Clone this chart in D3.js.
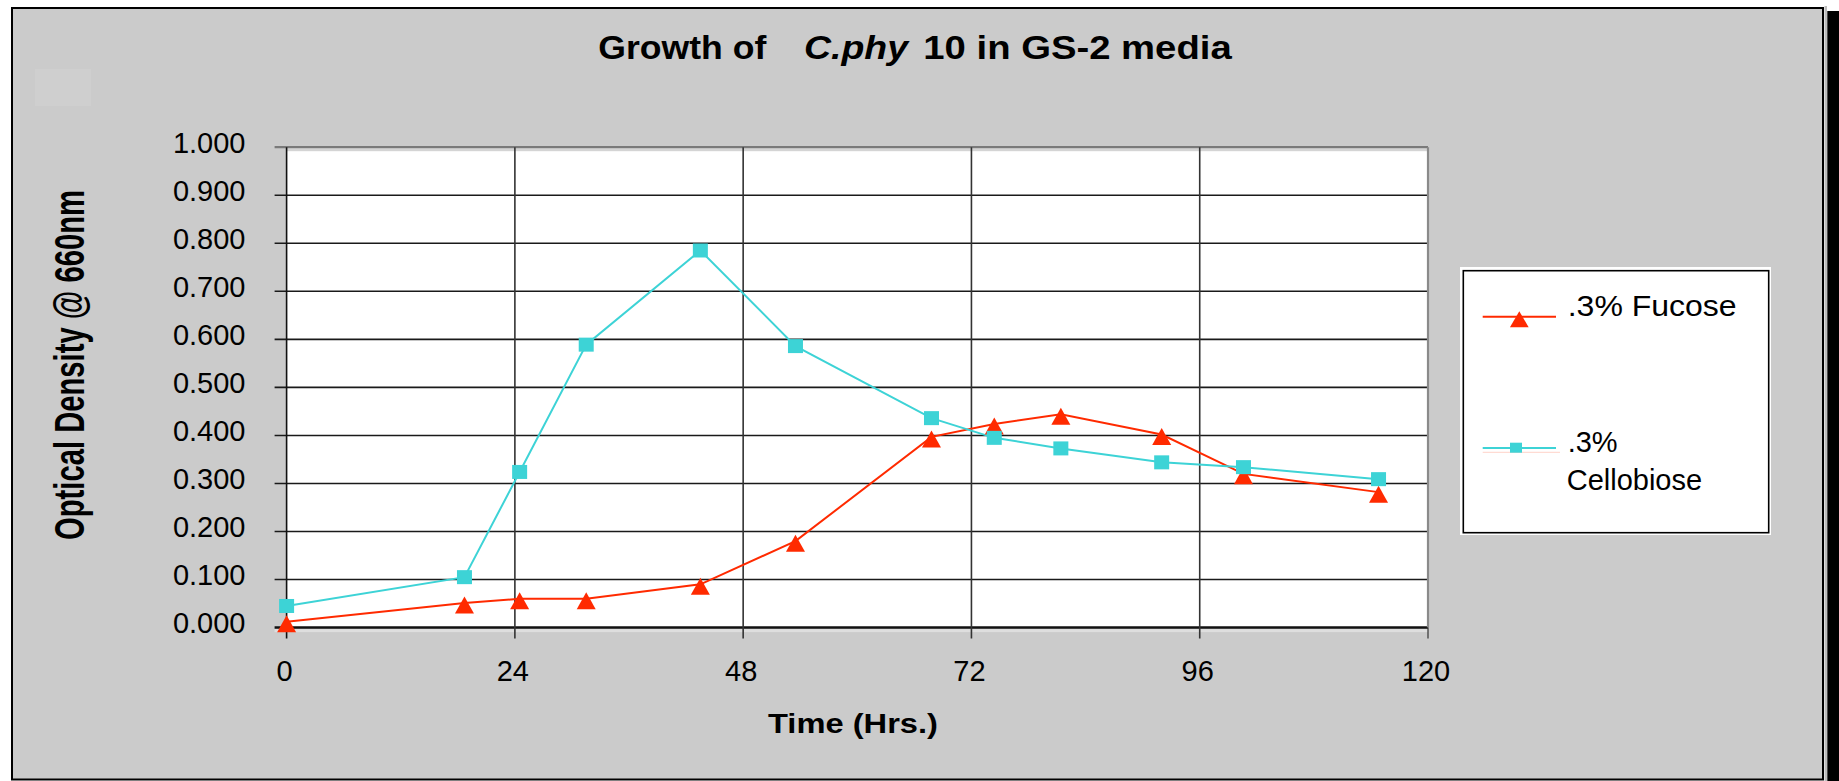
<!DOCTYPE html>
<html>
<head>
<meta charset="utf-8">
<script src="https://cdn.jsdelivr.net/npm/d3@7"></script>
<style>
  html, body { margin: 0; padding: 0; background: #ffffff; }
  svg { display: block; }
  text { font-family: "Liberation Sans", Arial, Helvetica, sans-serif; fill: #000; }
</style>
</head>
<body>
<svg id="chart" width="1839" height="781"></svg>
<script>
// ---------------- data ----------------
const timeHrs    = [0, 18.7, 24.5, 31.5, 43.5, 53.5, 67.8, 74.4, 81.4, 92, 100.6, 114.8];
const fucose     = [0.012, 0.051, 0.060, 0.060, 0.090, 0.180, 0.397, 0.424, 0.444, 0.402, 0.320, 0.282];
const cellobiose = [0.045, 0.105, 0.324, 0.589, 0.785, 0.586, 0.436, 0.395, 0.373, 0.344, 0.334, 0.309];
const seriesNames = [".3% Fucose", ".3% Cellobiose"];
const xTicks = [0, 24, 48, 72, 96, 120];
const yTicks = [0, 0.1, 0.2, 0.3, 0.4, 0.5, 0.6, 0.7, 0.8, 0.9, 1.0];
const titleParts = ["Growth of", "C.phy", "10 in GS-2 media"];
const xTitle = "Time (Hrs.)";
const yTitle = "Optical Density @ 660nm";

// ---------------- layout ----------------
const svg = d3.select("#chart");
const plot = { left: 286.6, right: 1428, top: 147.2, bottom: 627.6 };
const x = d3.scaleLinear().domain([0, 120]).range([plot.left, plot.right]);
const y = d3.scaleLinear().domain([0, 1]).range([plot.bottom, plot.top]);

const RED = "#ff2a00";
const CYAN = "#3dd3d6";

// outer frame
svg.append("rect").attr("x", 12).attr("y", 8).attr("width", 1811).attr("height", 771.5)
  .attr("fill", "#cbcbcb").attr("stroke", "#000").attr("stroke-width", 2);
svg.append("rect").attr("x", 1824.5).attr("y", 6).attr("width", 2.5).attr("height", 775).attr("fill", "#bdbdbd");
svg.append("rect").attr("x", 1827.3).attr("y", 11).attr("width", 12).attr("height", 770).attr("fill", "#000");
// faint lighter patch top-left
svg.append("rect").attr("x", 35).attr("y", 69).attr("width", 56).attr("height", 37).attr("fill", "#cfcfcf");

// plot area
svg.append("rect").attr("x", plot.left).attr("y", plot.top)
  .attr("width", plot.right - plot.left).attr("height", plot.bottom - plot.top)
  .attr("fill", "#ffffff");
svg.append("rect").attr("x", plot.left).attr("y", plot.top + 1)
  .attr("width", plot.right - plot.left).attr("height", 3).attr("fill", "#d4d4d4");
svg.append("rect").attr("x", plot.left - 12).attr("y", plot.bottom + 1.5)
  .attr("width", plot.right - plot.left + 12).attr("height", 3).attr("fill", "#dedede");

// horizontal gridlines
const gy = svg.append("g");
yTicks.forEach(v => {
  const top = v === 1, bot = v === 0;
  gy.append("line")
    .attr("x1", plot.left - 12).attr("x2", plot.right)
    .attr("y1", y(v)).attr("y2", y(v))
    .attr("stroke", top ? "#7a7a7a" : (bot ? "#111" : "#1a1a1a"))
    .attr("stroke-width", bot ? 2.5 : (top ? 2.2 : 1.6));
});
// vertical gridlines + ticks
const gx = svg.append("g");
xTicks.forEach(v => {
  const right = v === 120;
  gx.append("line")
    .attr("x1", x(v)).attr("x2", x(v))
    .attr("y1", plot.top).attr("y2", right ? plot.bottom : plot.bottom + 11)
    .attr("stroke", right ? "#8a8a8a" : (v === 0 ? "#111" : "#333"))
    .attr("stroke-width", right ? 2.2 : 1.6);
  if (right) {
    gx.append("line").attr("x1", x(v)).attr("x2", x(v))
      .attr("y1", plot.bottom).attr("y2", plot.bottom + 11)
      .attr("stroke", "#333").attr("stroke-width", 1.2);
  }
});

// tick labels
svg.append("g").selectAll("text").data(yTicks).join("text")
  .attr("x", 245.5).attr("y", d => y(d) + 5.5)
  .attr("text-anchor", "end").attr("font-size", 29)
  .text(d => d3.format(".3f")(d));
svg.append("g").selectAll("text").data(xTicks).join("text")
  .attr("x", d => x(d) - 2).attr("y", 681)
  .attr("text-anchor", "middle").attr("font-size", 29)
  .text(d => d);

// titles
const tt = svg.append("g").attr("font-weight", "bold").attr("font-size", 32.5);
tt.append("text").attr("x", 598.3).attr("y", 59.3).attr("textLength", 168).attr("lengthAdjust", "spacingAndGlyphs").text(titleParts[0]);
tt.append("text").attr("x", 804).attr("y", 59.3).attr("font-style", "italic").attr("textLength", 104).attr("lengthAdjust", "spacingAndGlyphs").text(titleParts[1]);
tt.append("text").attr("x", 923.3).attr("y", 59.3).attr("textLength", 308.4).attr("lengthAdjust", "spacingAndGlyphs").text(titleParts[2]);

svg.append("text").attr("x", 768).attr("y", 733.3)
  .attr("font-weight", "bold").attr("font-size", 28.5)
  .attr("textLength", 170).attr("lengthAdjust", "spacingAndGlyphs")
  .text(xTitle);

svg.append("text")
  .attr("transform", "translate(84,365) rotate(-90) scale(1,1.47)")
  .attr("text-anchor", "middle")
  .attr("font-weight", "bold").attr("font-size", 29)
  .attr("textLength", 350).attr("lengthAdjust", "spacingAndGlyphs")
  .text(yTitle);

// series
const line = d3.line().x(d => x(d[0])).y(d => y(d[1]));
const fucData = timeHrs.map((t, i) => [t, fucose[i]]);
const celData = timeHrs.map((t, i) => [t, cellobiose[i]]);

const triPath = (cx, cy, w, h) => `M${cx - w / 2},${cy + h / 2}L${cx},${cy - h / 2}L${cx + w / 2},${cy + h / 2}Z`;

svg.append("path").attr("d", line(fucData)).attr("fill", "none").attr("stroke", RED).attr("stroke-width", 2);
svg.append("path").attr("d", line(celData)).attr("fill", "none").attr("stroke", CYAN).attr("stroke-width", 2);

svg.append("g").selectAll("path").data(fucData).join("path")
  .attr("d", d => triPath(x(d[0]), y(d[1]) + 2, 19, 17))
  .attr("fill", RED);
svg.append("g").selectAll("rect").data(celData).join("rect")
  .attr("x", d => x(d[0]) - 7.5).attr("y", d => y(d[1]) - 7)
  .attr("width", 15).attr("height", 14).attr("fill", CYAN);

// legend
const lg = svg.append("g");
lg.append("rect").attr("x", 1460).attr("y", 267).attr("width", 311).attr("height", 268).attr("fill", "#fff");
lg.append("rect").attr("x", 1463.3).attr("y", 270.7).attr("width", 305.4).attr("height", 262)
  .attr("fill", "#fff").attr("stroke", "#000").attr("stroke-width", 1.6);
lg.append("line").attr("x1", 1482.7).attr("x2", 1556).attr("y1", 316.7).attr("y2", 316.7).attr("stroke", RED).attr("stroke-width", 2);
lg.append("path").attr("d", triPath(1519.3, 319.2, 18.7, 16)).attr("fill", RED);
lg.append("text").attr("x", 1567.7).attr("y", 316).attr("font-size", 29)
  .attr("textLength", 169).attr("lengthAdjust", "spacingAndGlyphs").text(seriesNames[0]);

lg.append("line").attr("x1", 1482.7).attr("x2", 1560).attr("y1", 452.3).attr("y2", 452.3).attr("stroke", "#ffd2c8").attr("stroke-width", 1);
lg.append("line").attr("x1", 1482.7).attr("x2", 1556).attr("y1", 448).attr("y2", 448).attr("stroke", CYAN).attr("stroke-width", 2);
lg.append("rect").attr("x", 1510).attr("y", 442.7).attr("width", 12).attr("height", 10).attr("fill", CYAN);
const parts = seriesNames[1].split(" ");
lg.append("text").attr("x", 1567.7).attr("y", 452).attr("font-size", 29).text(parts[0]);
lg.append("text").attr("x", 1566.7).attr("y", 490).attr("font-size", 29).text(parts[1]);
</script>
</body>
</html>
